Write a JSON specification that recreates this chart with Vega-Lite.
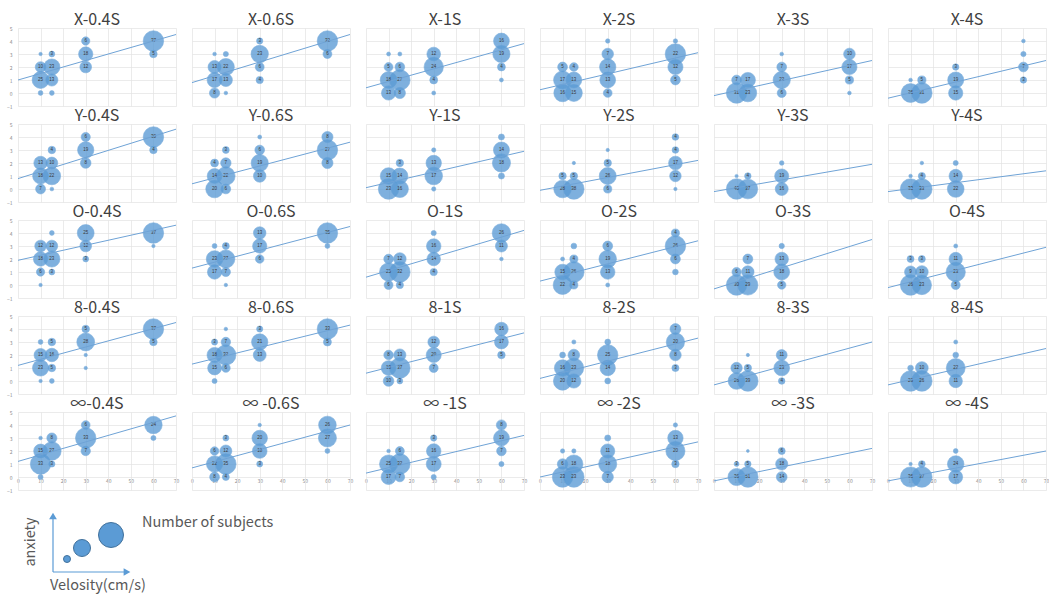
{
"$schema":"https://vega.github.io/schema/vega-lite/v6.json",
"padding":{"left":6,"top":12,"right":0,"bottom":0},
"config":{"view":{"stroke":null},"font":"Noto Sans CJK JP","concat":{"spacing":17}},
"vconcat":[
{
"data":{"values":[
{"p":"X-0.4S","k":"b","v":10,"a":3,"n":1},{"p":"X-0.4S","k":"b","v":10,"a":2,"n":10},{"p":"X-0.4S","k":"b","v":10,"a":1,"n":25},{"p":"X-0.4S","k":"b","v":10,"a":0,"n":2},{"p":"X-0.4S","k":"b","v":15,"a":3,"n":3},{"p":"X-0.4S","k":"b","v":15,"a":2,"n":23},{"p":"X-0.4S","k":"b","v":15,"a":1,"n":13},{"p":"X-0.4S","k":"b","v":15,"a":0,"n":2},{"p":"X-0.4S","k":"b","v":30,"a":4,"n":6},{"p":"X-0.4S","k":"b","v":30,"a":3,"n":18},{"p":"X-0.4S","k":"b","v":30,"a":2,"n":12},{"p":"X-0.4S","k":"b","v":60,"a":4,"n":37},{"p":"X-0.4S","k":"b","v":60,"a":3,"n":5},{"p":"X-0.4S","k":"t","v":0,"a":1.0},{"p":"X-0.4S","k":"t","v":70,"a":4.5},
{"p":"X-0.6S","k":"b","v":10,"a":3,"n":1},{"p":"X-0.6S","k":"b","v":10,"a":2,"n":13},{"p":"X-0.6S","k":"b","v":10,"a":1,"n":17},{"p":"X-0.6S","k":"b","v":10,"a":0,"n":8},{"p":"X-0.6S","k":"b","v":15,"a":3,"n":2},{"p":"X-0.6S","k":"b","v":15,"a":2,"n":22},{"p":"X-0.6S","k":"b","v":15,"a":1,"n":13},{"p":"X-0.6S","k":"b","v":15,"a":0,"n":1},{"p":"X-0.6S","k":"b","v":30,"a":4,"n":3},{"p":"X-0.6S","k":"b","v":30,"a":3,"n":23},{"p":"X-0.6S","k":"b","v":30,"a":2,"n":6},{"p":"X-0.6S","k":"b","v":30,"a":1,"n":4},{"p":"X-0.6S","k":"b","v":60,"a":4,"n":32},{"p":"X-0.6S","k":"b","v":60,"a":3,"n":6},{"p":"X-0.6S","k":"t","v":0,"a":0.8},{"p":"X-0.6S","k":"t","v":70,"a":4.5},
{"p":"X-1S","k":"b","v":10,"a":3,"n":1},{"p":"X-1S","k":"b","v":10,"a":2,"n":5},{"p":"X-1S","k":"b","v":10,"a":1,"n":18},{"p":"X-1S","k":"b","v":10,"a":0,"n":13},{"p":"X-1S","k":"b","v":15,"a":3,"n":1},{"p":"X-1S","k":"b","v":15,"a":2,"n":6},{"p":"X-1S","k":"b","v":15,"a":1,"n":27},{"p":"X-1S","k":"b","v":15,"a":0,"n":8},{"p":"X-1S","k":"b","v":30,"a":3,"n":12},{"p":"X-1S","k":"b","v":30,"a":2,"n":24},{"p":"X-1S","k":"b","v":30,"a":1,"n":4},{"p":"X-1S","k":"b","v":30,"a":0,"n":1},{"p":"X-1S","k":"b","v":60,"a":4,"n":16},{"p":"X-1S","k":"b","v":60,"a":3,"n":19},{"p":"X-1S","k":"b","v":60,"a":2,"n":4},{"p":"X-1S","k":"b","v":60,"a":1,"n":1},{"p":"X-1S","k":"t","v":0,"a":0.4},{"p":"X-1S","k":"t","v":70,"a":3.8},
{"p":"X-2S","k":"b","v":10,"a":2,"n":5},{"p":"X-2S","k":"b","v":10,"a":1,"n":17},{"p":"X-2S","k":"b","v":10,"a":0,"n":16},{"p":"X-2S","k":"b","v":15,"a":2,"n":4},{"p":"X-2S","k":"b","v":15,"a":1,"n":13},{"p":"X-2S","k":"b","v":15,"a":0,"n":15},{"p":"X-2S","k":"b","v":30,"a":4,"n":1},{"p":"X-2S","k":"b","v":30,"a":3,"n":7},{"p":"X-2S","k":"b","v":30,"a":2,"n":14},{"p":"X-2S","k":"b","v":30,"a":1,"n":13},{"p":"X-2S","k":"b","v":30,"a":0,"n":4},{"p":"X-2S","k":"b","v":60,"a":4,"n":1},{"p":"X-2S","k":"b","v":60,"a":3,"n":22},{"p":"X-2S","k":"b","v":60,"a":2,"n":12},{"p":"X-2S","k":"b","v":60,"a":1,"n":5},{"p":"X-2S","k":"t","v":0,"a":0.25},{"p":"X-2S","k":"t","v":70,"a":3.1},
{"p":"X-3S","k":"b","v":10,"a":1,"n":7},{"p":"X-3S","k":"b","v":10,"a":0,"n":31},{"p":"X-3S","k":"b","v":15,"a":1,"n":17},{"p":"X-3S","k":"b","v":15,"a":0,"n":23},{"p":"X-3S","k":"b","v":30,"a":3,"n":1},{"p":"X-3S","k":"b","v":30,"a":2,"n":7},{"p":"X-3S","k":"b","v":30,"a":1,"n":22},{"p":"X-3S","k":"b","v":30,"a":0,"n":6},{"p":"X-3S","k":"b","v":60,"a":3,"n":10},{"p":"X-3S","k":"b","v":60,"a":2,"n":17},{"p":"X-3S","k":"b","v":60,"a":1,"n":5},{"p":"X-3S","k":"b","v":60,"a":0,"n":1},{"p":"X-3S","k":"t","v":0,"a":-0.2},{"p":"X-3S","k":"t","v":70,"a":2.5},
{"p":"X-4S","k":"b","v":10,"a":1,"n":1},{"p":"X-4S","k":"b","v":10,"a":0,"n":26},{"p":"X-4S","k":"b","v":15,"a":1,"n":5},{"p":"X-4S","k":"b","v":15,"a":0,"n":31},{"p":"X-4S","k":"b","v":30,"a":2,"n":3},{"p":"X-4S","k":"b","v":30,"a":1,"n":19},{"p":"X-4S","k":"b","v":30,"a":0,"n":15},{"p":"X-4S","k":"b","v":60,"a":4,"n":1},{"p":"X-4S","k":"b","v":60,"a":3,"n":2},{"p":"X-4S","k":"b","v":60,"a":2,"n":7},{"p":"X-4S","k":"b","v":60,"a":1,"n":3},{"p":"X-4S","k":"t","v":0,"a":-0.4},{"p":"X-4S","k":"t","v":70,"a":2.5},
{"p":"Y-0.4S","k":"b","v":10,"a":2,"n":13},{"p":"Y-0.4S","k":"b","v":10,"a":1,"n":18},{"p":"Y-0.4S","k":"b","v":10,"a":0,"n":7},{"p":"Y-0.4S","k":"b","v":15,"a":3,"n":4},{"p":"Y-0.4S","k":"b","v":15,"a":2,"n":10},{"p":"Y-0.4S","k":"b","v":15,"a":1,"n":22},{"p":"Y-0.4S","k":"b","v":15,"a":0,"n":1},{"p":"Y-0.4S","k":"b","v":30,"a":4,"n":6},{"p":"Y-0.4S","k":"b","v":30,"a":3,"n":19},{"p":"Y-0.4S","k":"b","v":30,"a":2,"n":8},{"p":"Y-0.4S","k":"b","v":60,"a":4,"n":30},{"p":"Y-0.4S","k":"b","v":60,"a":3,"n":4},{"p":"Y-0.4S","k":"t","v":0,"a":0.8},{"p":"Y-0.4S","k":"t","v":70,"a":4.6},
{"p":"Y-0.6S","k":"b","v":10,"a":2,"n":4},{"p":"Y-0.6S","k":"b","v":10,"a":1,"n":14},{"p":"Y-0.6S","k":"b","v":10,"a":0,"n":20},{"p":"Y-0.6S","k":"b","v":15,"a":3,"n":3},{"p":"Y-0.6S","k":"b","v":15,"a":2,"n":7},{"p":"Y-0.6S","k":"b","v":15,"a":1,"n":22},{"p":"Y-0.6S","k":"b","v":15,"a":0,"n":6},{"p":"Y-0.6S","k":"b","v":30,"a":4,"n":1},{"p":"Y-0.6S","k":"b","v":30,"a":3,"n":6},{"p":"Y-0.6S","k":"b","v":30,"a":2,"n":19},{"p":"Y-0.6S","k":"b","v":30,"a":1,"n":10},{"p":"Y-0.6S","k":"b","v":60,"a":4,"n":8},{"p":"Y-0.6S","k":"b","v":60,"a":3,"n":27},{"p":"Y-0.6S","k":"b","v":60,"a":2,"n":8},{"p":"Y-0.6S","k":"t","v":0,"a":0.4},{"p":"Y-0.6S","k":"t","v":70,"a":3.6},
{"p":"Y-1S","k":"b","v":10,"a":1,"n":15},{"p":"Y-1S","k":"b","v":10,"a":0,"n":23},{"p":"Y-1S","k":"b","v":15,"a":2,"n":3},{"p":"Y-1S","k":"b","v":15,"a":1,"n":14},{"p":"Y-1S","k":"b","v":15,"a":0,"n":16},{"p":"Y-1S","k":"b","v":30,"a":3,"n":1},{"p":"Y-1S","k":"b","v":30,"a":2,"n":13},{"p":"Y-1S","k":"b","v":30,"a":1,"n":17},{"p":"Y-1S","k":"b","v":30,"a":0,"n":1},{"p":"Y-1S","k":"b","v":60,"a":4,"n":2},{"p":"Y-1S","k":"b","v":60,"a":3,"n":14},{"p":"Y-1S","k":"b","v":60,"a":2,"n":18},{"p":"Y-1S","k":"b","v":60,"a":1,"n":2},{"p":"Y-1S","k":"t","v":0,"a":0.1},{"p":"Y-1S","k":"t","v":70,"a":2.9},
{"p":"Y-2S","k":"b","v":10,"a":1,"n":5},{"p":"Y-2S","k":"b","v":10,"a":0,"n":28},{"p":"Y-2S","k":"b","v":15,"a":2,"n":1},{"p":"Y-2S","k":"b","v":15,"a":1,"n":5},{"p":"Y-2S","k":"b","v":15,"a":0,"n":38},{"p":"Y-2S","k":"b","v":30,"a":3,"n":1},{"p":"Y-2S","k":"b","v":30,"a":2,"n":5},{"p":"Y-2S","k":"b","v":30,"a":1,"n":26},{"p":"Y-2S","k":"b","v":30,"a":0,"n":6},{"p":"Y-2S","k":"b","v":60,"a":4,"n":4},{"p":"Y-2S","k":"b","v":60,"a":3,"n":4},{"p":"Y-2S","k":"b","v":60,"a":2,"n":17},{"p":"Y-2S","k":"b","v":60,"a":1,"n":12},{"p":"Y-2S","k":"b","v":60,"a":0,"n":1},{"p":"Y-2S","k":"t","v":0,"a":-0.1},{"p":"Y-2S","k":"t","v":70,"a":2.2},
{"p":"Y-3S","k":"b","v":10,"a":1,"n":1},{"p":"Y-3S","k":"b","v":10,"a":0,"n":40},{"p":"Y-3S","k":"b","v":15,"a":1,"n":4},{"p":"Y-3S","k":"b","v":15,"a":0,"n":37},{"p":"Y-3S","k":"b","v":30,"a":2,"n":2},{"p":"Y-3S","k":"b","v":30,"a":1,"n":19},{"p":"Y-3S","k":"b","v":30,"a":0,"n":16},{"p":"Y-3S","k":"t","v":0,"a":-0.2},{"p":"Y-3S","k":"t","v":70,"a":1.9},
{"p":"Y-4S","k":"b","v":10,"a":1,"n":1},{"p":"Y-4S","k":"b","v":10,"a":0,"n":33},{"p":"Y-4S","k":"b","v":15,"a":2,"n":1},{"p":"Y-4S","k":"b","v":15,"a":1,"n":4},{"p":"Y-4S","k":"b","v":15,"a":0,"n":33},{"p":"Y-4S","k":"b","v":30,"a":2,"n":2},{"p":"Y-4S","k":"b","v":30,"a":1,"n":14},{"p":"Y-4S","k":"b","v":30,"a":0,"n":22},{"p":"Y-4S","k":"t","v":0,"a":-0.2},{"p":"Y-4S","k":"t","v":70,"a":1.4},
{"p":"O-0.4S","k":"b","v":10,"a":3,"n":12},{"p":"O-0.4S","k":"b","v":10,"a":2,"n":18},{"p":"O-0.4S","k":"b","v":10,"a":1,"n":6},{"p":"O-0.4S","k":"b","v":10,"a":0,"n":1},{"p":"O-0.4S","k":"b","v":15,"a":4,"n":2},{"p":"O-0.4S","k":"b","v":15,"a":3,"n":12},{"p":"O-0.4S","k":"b","v":15,"a":2,"n":23},{"p":"O-0.4S","k":"b","v":15,"a":1,"n":3},{"p":"O-0.4S","k":"b","v":30,"a":4,"n":25},{"p":"O-0.4S","k":"b","v":30,"a":3,"n":12},{"p":"O-0.4S","k":"b","v":30,"a":2,"n":3},{"p":"O-0.4S","k":"b","v":60,"a":4,"n":37},{"p":"O-0.4S","k":"b","v":60,"a":3,"n":1},{"p":"O-0.4S","k":"t","v":0,"a":1.9},{"p":"O-0.4S","k":"t","v":70,"a":4.6},
{"p":"O-0.6S","k":"b","v":10,"a":3,"n":2},{"p":"O-0.6S","k":"b","v":10,"a":2,"n":23},{"p":"O-0.6S","k":"b","v":10,"a":1,"n":17},{"p":"O-0.6S","k":"b","v":15,"a":3,"n":4},{"p":"O-0.6S","k":"b","v":15,"a":2,"n":27},{"p":"O-0.6S","k":"b","v":15,"a":1,"n":7},{"p":"O-0.6S","k":"b","v":15,"a":0,"n":1},{"p":"O-0.6S","k":"b","v":30,"a":4,"n":13},{"p":"O-0.6S","k":"b","v":30,"a":3,"n":17},{"p":"O-0.6S","k":"b","v":30,"a":2,"n":6},{"p":"O-0.6S","k":"b","v":60,"a":4,"n":35},{"p":"O-0.6S","k":"b","v":60,"a":3,"n":2},{"p":"O-0.6S","k":"t","v":0,"a":1.3},{"p":"O-0.6S","k":"t","v":70,"a":4.5},
{"p":"O-1S","k":"b","v":10,"a":2,"n":7},{"p":"O-1S","k":"b","v":10,"a":1,"n":25},{"p":"O-1S","k":"b","v":10,"a":0,"n":6},{"p":"O-1S","k":"b","v":15,"a":2,"n":12},{"p":"O-1S","k":"b","v":15,"a":1,"n":32},{"p":"O-1S","k":"b","v":15,"a":0,"n":4},{"p":"O-1S","k":"b","v":30,"a":4,"n":2},{"p":"O-1S","k":"b","v":30,"a":3,"n":16},{"p":"O-1S","k":"b","v":30,"a":2,"n":14},{"p":"O-1S","k":"b","v":30,"a":1,"n":4},{"p":"O-1S","k":"b","v":60,"a":4,"n":26},{"p":"O-1S","k":"b","v":60,"a":3,"n":11},{"p":"O-1S","k":"b","v":60,"a":2,"n":1},{"p":"O-1S","k":"t","v":0,"a":0.6},{"p":"O-1S","k":"t","v":70,"a":4.2},
{"p":"O-2S","k":"b","v":10,"a":2,"n":1},{"p":"O-2S","k":"b","v":10,"a":1,"n":15},{"p":"O-2S","k":"b","v":10,"a":0,"n":22},{"p":"O-2S","k":"b","v":15,"a":3,"n":2},{"p":"O-2S","k":"b","v":15,"a":2,"n":4},{"p":"O-2S","k":"b","v":15,"a":1,"n":26},{"p":"O-2S","k":"b","v":15,"a":0,"n":4},{"p":"O-2S","k":"b","v":30,"a":3,"n":6},{"p":"O-2S","k":"b","v":30,"a":2,"n":19},{"p":"O-2S","k":"b","v":30,"a":1,"n":13},{"p":"O-2S","k":"b","v":30,"a":0,"n":1},{"p":"O-2S","k":"b","v":60,"a":4,"n":4},{"p":"O-2S","k":"b","v":60,"a":3,"n":26},{"p":"O-2S","k":"b","v":60,"a":2,"n":6},{"p":"O-2S","k":"b","v":60,"a":1,"n":2},{"p":"O-2S","k":"t","v":0,"a":0.3},{"p":"O-2S","k":"t","v":70,"a":3.4},
{"p":"O-3S","k":"b","v":10,"a":1,"n":6},{"p":"O-3S","k":"b","v":10,"a":0,"n":30},{"p":"O-3S","k":"b","v":15,"a":2,"n":7},{"p":"O-3S","k":"b","v":15,"a":1,"n":11},{"p":"O-3S","k":"b","v":15,"a":0,"n":29},{"p":"O-3S","k":"b","v":30,"a":3,"n":2},{"p":"O-3S","k":"b","v":30,"a":2,"n":13},{"p":"O-3S","k":"b","v":30,"a":1,"n":18},{"p":"O-3S","k":"b","v":30,"a":0,"n":5},{"p":"O-3S","k":"t","v":0,"a":-0.3},{"p":"O-3S","k":"t","v":70,"a":3.5},
{"p":"O-4S","k":"b","v":10,"a":2,"n":3},{"p":"O-4S","k":"b","v":10,"a":1,"n":9},{"p":"O-4S","k":"b","v":10,"a":0,"n":26},{"p":"O-4S","k":"b","v":15,"a":2,"n":3},{"p":"O-4S","k":"b","v":15,"a":1,"n":10},{"p":"O-4S","k":"b","v":15,"a":0,"n":23},{"p":"O-4S","k":"b","v":30,"a":3,"n":1},{"p":"O-4S","k":"b","v":30,"a":2,"n":11},{"p":"O-4S","k":"b","v":30,"a":1,"n":23},{"p":"O-4S","k":"b","v":30,"a":0,"n":5},{"p":"O-4S","k":"t","v":0,"a":-0.2},{"p":"O-4S","k":"t","v":70,"a":2.9},
{"p":"8-0.4S","k":"b","v":10,"a":3,"n":2},{"p":"8-0.4S","k":"b","v":10,"a":2,"n":15},{"p":"8-0.4S","k":"b","v":10,"a":1,"n":23},{"p":"8-0.4S","k":"b","v":10,"a":0,"n":1},{"p":"8-0.4S","k":"b","v":15,"a":3,"n":5},{"p":"8-0.4S","k":"b","v":15,"a":2,"n":16},{"p":"8-0.4S","k":"b","v":15,"a":1,"n":5},{"p":"8-0.4S","k":"b","v":15,"a":0,"n":2},{"p":"8-0.4S","k":"b","v":30,"a":4,"n":5},{"p":"8-0.4S","k":"b","v":30,"a":3,"n":28},{"p":"8-0.4S","k":"b","v":30,"a":2,"n":1},{"p":"8-0.4S","k":"b","v":30,"a":1,"n":1},{"p":"8-0.4S","k":"b","v":60,"a":4,"n":37},{"p":"8-0.4S","k":"b","v":60,"a":3,"n":5},{"p":"8-0.4S","k":"t","v":0,"a":1.2},{"p":"8-0.4S","k":"t","v":70,"a":4.5},
{"p":"8-0.6S","k":"b","v":10,"a":3,"n":3},{"p":"8-0.6S","k":"b","v":10,"a":2,"n":18},{"p":"8-0.6S","k":"b","v":10,"a":1,"n":15},{"p":"8-0.6S","k":"b","v":10,"a":0,"n":2},{"p":"8-0.6S","k":"b","v":15,"a":4,"n":1},{"p":"8-0.6S","k":"b","v":15,"a":3,"n":7},{"p":"8-0.6S","k":"b","v":15,"a":2,"n":32},{"p":"8-0.6S","k":"b","v":15,"a":1,"n":6},{"p":"8-0.6S","k":"b","v":30,"a":4,"n":3},{"p":"8-0.6S","k":"b","v":30,"a":3,"n":21},{"p":"8-0.6S","k":"b","v":30,"a":2,"n":13},{"p":"8-0.6S","k":"b","v":60,"a":4,"n":33},{"p":"8-0.6S","k":"b","v":60,"a":3,"n":5},{"p":"8-0.6S","k":"t","v":0,"a":1.3},{"p":"8-0.6S","k":"t","v":70,"a":4.3},
{"p":"8-1S","k":"b","v":10,"a":2,"n":8},{"p":"8-1S","k":"b","v":10,"a":1,"n":19},{"p":"8-1S","k":"b","v":10,"a":0,"n":10},{"p":"8-1S","k":"b","v":15,"a":2,"n":13},{"p":"8-1S","k":"b","v":15,"a":1,"n":37},{"p":"8-1S","k":"b","v":15,"a":0,"n":3},{"p":"8-1S","k":"b","v":30,"a":3,"n":12},{"p":"8-1S","k":"b","v":30,"a":2,"n":20},{"p":"8-1S","k":"b","v":30,"a":1,"n":7},{"p":"8-1S","k":"b","v":60,"a":4,"n":16},{"p":"8-1S","k":"b","v":60,"a":3,"n":17},{"p":"8-1S","k":"b","v":60,"a":2,"n":5},{"p":"8-1S","k":"t","v":0,"a":0.6},{"p":"8-1S","k":"t","v":70,"a":3.7},
{"p":"8-2S","k":"b","v":10,"a":2,"n":2},{"p":"8-2S","k":"b","v":10,"a":1,"n":16},{"p":"8-2S","k":"b","v":10,"a":0,"n":20},{"p":"8-2S","k":"b","v":15,"a":3,"n":1},{"p":"8-2S","k":"b","v":15,"a":2,"n":8},{"p":"8-2S","k":"b","v":15,"a":1,"n":23},{"p":"8-2S","k":"b","v":15,"a":0,"n":12},{"p":"8-2S","k":"b","v":30,"a":3,"n":2},{"p":"8-2S","k":"b","v":30,"a":2,"n":25},{"p":"8-2S","k":"b","v":30,"a":1,"n":14},{"p":"8-2S","k":"b","v":30,"a":0,"n":2},{"p":"8-2S","k":"b","v":60,"a":4,"n":7},{"p":"8-2S","k":"b","v":60,"a":3,"n":20},{"p":"8-2S","k":"b","v":60,"a":2,"n":8},{"p":"8-2S","k":"b","v":60,"a":1,"n":3},{"p":"8-2S","k":"t","v":0,"a":0.2},{"p":"8-2S","k":"t","v":70,"a":3.3},
{"p":"8-3S","k":"b","v":10,"a":1,"n":12},{"p":"8-3S","k":"b","v":10,"a":0,"n":26},{"p":"8-3S","k":"b","v":15,"a":2,"n":1},{"p":"8-3S","k":"b","v":15,"a":1,"n":5},{"p":"8-3S","k":"b","v":15,"a":0,"n":39},{"p":"8-3S","k":"b","v":30,"a":2,"n":11},{"p":"8-3S","k":"b","v":30,"a":1,"n":23},{"p":"8-3S","k":"b","v":30,"a":0,"n":4},{"p":"8-3S","k":"t","v":0,"a":-0.3},{"p":"8-3S","k":"t","v":70,"a":3.0},
{"p":"8-4S","k":"b","v":10,"a":1,"n":2},{"p":"8-4S","k":"b","v":10,"a":0,"n":26},{"p":"8-4S","k":"b","v":15,"a":1,"n":10},{"p":"8-4S","k":"b","v":15,"a":0,"n":26},{"p":"8-4S","k":"b","v":30,"a":3,"n":1},{"p":"8-4S","k":"b","v":30,"a":2,"n":2},{"p":"8-4S","k":"b","v":30,"a":1,"n":22},{"p":"8-4S","k":"b","v":30,"a":0,"n":11},{"p":"8-4S","k":"t","v":0,"a":-0.3},{"p":"8-4S","k":"t","v":70,"a":2.5},
{"p":"∞-0.4S","k":"b","v":10,"a":3,"n":1},{"p":"∞-0.4S","k":"b","v":10,"a":2,"n":15},{"p":"∞-0.4S","k":"b","v":10,"a":1,"n":33},{"p":"∞-0.4S","k":"b","v":10,"a":0,"n":2},{"p":"∞-0.4S","k":"b","v":15,"a":3,"n":8},{"p":"∞-0.4S","k":"b","v":15,"a":2,"n":27},{"p":"∞-0.4S","k":"b","v":15,"a":1,"n":3},{"p":"∞-0.4S","k":"b","v":30,"a":4,"n":6},{"p":"∞-0.4S","k":"b","v":30,"a":3,"n":33},{"p":"∞-0.4S","k":"b","v":30,"a":2,"n":7},{"p":"∞-0.4S","k":"b","v":60,"a":4,"n":24},{"p":"∞-0.4S","k":"b","v":60,"a":3,"n":2},{"p":"∞-0.4S","k":"t","v":0,"a":1.2},{"p":"∞-0.4S","k":"t","v":70,"a":4.7},
{"p":"∞ -0.6S","k":"b","v":10,"a":2,"n":6},{"p":"∞ -0.6S","k":"b","v":10,"a":1,"n":22},{"p":"∞ -0.6S","k":"b","v":10,"a":0,"n":8},{"p":"∞ -0.6S","k":"b","v":15,"a":3,"n":3},{"p":"∞ -0.6S","k":"b","v":15,"a":2,"n":12},{"p":"∞ -0.6S","k":"b","v":15,"a":1,"n":35},{"p":"∞ -0.6S","k":"b","v":15,"a":0,"n":4},{"p":"∞ -0.6S","k":"b","v":30,"a":4,"n":1},{"p":"∞ -0.6S","k":"b","v":30,"a":3,"n":20},{"p":"∞ -0.6S","k":"b","v":30,"a":2,"n":18},{"p":"∞ -0.6S","k":"b","v":30,"a":1,"n":3},{"p":"∞ -0.6S","k":"b","v":60,"a":4,"n":26},{"p":"∞ -0.6S","k":"b","v":60,"a":3,"n":27},{"p":"∞ -0.6S","k":"b","v":60,"a":2,"n":2},{"p":"∞ -0.6S","k":"t","v":0,"a":0.7},{"p":"∞ -0.6S","k":"t","v":70,"a":4.0},
{"p":"∞ -1S","k":"b","v":10,"a":2,"n":1},{"p":"∞ -1S","k":"b","v":10,"a":1,"n":25},{"p":"∞ -1S","k":"b","v":10,"a":0,"n":17},{"p":"∞ -1S","k":"b","v":15,"a":2,"n":6},{"p":"∞ -1S","k":"b","v":15,"a":1,"n":32},{"p":"∞ -1S","k":"b","v":15,"a":0,"n":7},{"p":"∞ -1S","k":"b","v":30,"a":3,"n":3},{"p":"∞ -1S","k":"b","v":30,"a":2,"n":16},{"p":"∞ -1S","k":"b","v":30,"a":1,"n":17},{"p":"∞ -1S","k":"b","v":30,"a":0,"n":2},{"p":"∞ -1S","k":"b","v":60,"a":4,"n":8},{"p":"∞ -1S","k":"b","v":60,"a":3,"n":19},{"p":"∞ -1S","k":"b","v":60,"a":2,"n":7},{"p":"∞ -1S","k":"b","v":60,"a":1,"n":2},{"p":"∞ -1S","k":"t","v":0,"a":0.3},{"p":"∞ -1S","k":"t","v":70,"a":3.2},
{"p":"∞ -2S","k":"b","v":10,"a":2,"n":1},{"p":"∞ -2S","k":"b","v":10,"a":1,"n":6},{"p":"∞ -2S","k":"b","v":10,"a":0,"n":23},{"p":"∞ -2S","k":"b","v":15,"a":2,"n":1},{"p":"∞ -2S","k":"b","v":15,"a":1,"n":18},{"p":"∞ -2S","k":"b","v":15,"a":0,"n":23},{"p":"∞ -2S","k":"b","v":30,"a":3,"n":2},{"p":"∞ -2S","k":"b","v":30,"a":2,"n":11},{"p":"∞ -2S","k":"b","v":30,"a":1,"n":18},{"p":"∞ -2S","k":"b","v":30,"a":0,"n":7},{"p":"∞ -2S","k":"b","v":60,"a":4,"n":1},{"p":"∞ -2S","k":"b","v":60,"a":3,"n":13},{"p":"∞ -2S","k":"b","v":60,"a":2,"n":20},{"p":"∞ -2S","k":"b","v":60,"a":1,"n":3},{"p":"∞ -2S","k":"t","v":0,"a":0.0},{"p":"∞ -2S","k":"t","v":70,"a":2.7},
{"p":"∞ -3S","k":"b","v":10,"a":1,"n":3},{"p":"∞ -3S","k":"b","v":10,"a":0,"n":36},{"p":"∞ -3S","k":"b","v":15,"a":2,"n":1},{"p":"∞ -3S","k":"b","v":15,"a":1,"n":5},{"p":"∞ -3S","k":"b","v":15,"a":0,"n":51},{"p":"∞ -3S","k":"b","v":30,"a":2,"n":6},{"p":"∞ -3S","k":"b","v":30,"a":1,"n":18},{"p":"∞ -3S","k":"b","v":30,"a":0,"n":14},{"p":"∞ -3S","k":"t","v":0,"a":-0.3},{"p":"∞ -3S","k":"t","v":70,"a":2.2},
{"p":"∞ -4S","k":"b","v":10,"a":1,"n":1},{"p":"∞ -4S","k":"b","v":10,"a":0,"n":36},{"p":"∞ -4S","k":"b","v":15,"a":1,"n":4},{"p":"∞ -4S","k":"b","v":15,"a":0,"n":37},{"p":"∞ -4S","k":"b","v":30,"a":2,"n":2},{"p":"∞ -4S","k":"b","v":30,"a":1,"n":24},{"p":"∞ -4S","k":"b","v":30,"a":0,"n":17},{"p":"∞ -4S","k":"t","v":0,"a":-0.3},{"p":"∞ -4S","k":"t","v":70,"a":2.0}
]},
"facet":{"field":"p","type":"nominal","title":null,
"sort":["X-0.4S","X-0.6S","X-1S","X-2S","X-3S","X-4S","Y-0.4S","Y-0.6S","Y-1S","Y-2S","Y-3S","Y-4S","O-0.4S","O-0.6S","O-1S","O-2S","O-3S","O-4S","8-0.4S","8-0.6S","8-1S","8-2S","8-3S","8-4S","∞-0.4S","∞ -0.6S","∞ -1S","∞ -2S","∞ -3S","∞ -4S"],
"header":{"labelFontSize":16,"labelColor":"#404040","labelPadding":0,"labelFont":"Noto Sans CJK JP"}},
"columns":6,
"spacing":{"row":2,"column":12},
"resolve":{"scale":{"size":"independent"}},
"spec":{
"width":158,"height":78,
"encoding":{
"x":{"field":"v","type":"quantitative","scale":{"domain":[0,70],"nice":false,"zero":false},"axis":{"title":null,"values":[0,10,20,30,40,50,60,70],"labelFontSize":5,"labelColor":"#8c8c8c","labelOverlap":false,"labelFlush":false,"labelBound":false,"grid":true,"gridColor":"#e2e2e2","gridWidth":0.7,"domain":false,"ticks":false,"labelPadding":1,"offset":-13}},
"y":{"field":"a","type":"quantitative","scale":{"domain":[-1,5],"nice":false,"zero":false},"axis":{"title":null,"values":[-1,0,1,2,3,4,5],"labelFontSize":5,"labelColor":"#8c8c8c","labelOverlap":false,"labelFlush":false,"labelBound":false,"grid":true,"gridColor":"#e2e2e2","gridWidth":0.7,"domain":false,"ticks":false,"labelPadding":4}}
},
"layer":[
{"transform":[{"filter":"datum.k==='b'"}],
"mark":{"type":"circle","color":"#5B9BD5","opacity":0.78,"stroke":"#5B9BD5","strokeWidth":0.6},
"encoding":{"size":{"field":"n","type":"quantitative","scale":{"range":[0,420],"zero":true},"legend":null}}},
{"transform":[{"filter":"datum.k==='b' && datum.n>=3"}],
"mark":{"type":"text","fontSize":4.5,"color":"#3a3a3a","font":"Liberation Sans"},
"encoding":{"text":{"field":"n","type":"quantitative"}}},
{"transform":[{"filter":"datum.k==='t'"}],
"mark":{"type":"line","color":"#6FA3D6","strokeWidth":1},
"encoding":{}}
]}
},
{
"width":280,"height":88,
"data":{"values":[
{"g":"ax","x":35,"y":26,"x2":35,"y2":80},
{"g":"ax","x":35,"y":26,"x2":107,"y2":26},
{"g":"up","x":35,"y":82},
{"g":"right","x":109,"y":26},
{"g":"b","x":49,"y":39,"s":49},
{"g":"b","x":64,"y":50,"s":289},
{"g":"b","x":93,"y":63,"s":625},
{"g":"t","x":124,"y":75,"label":"Number of subjects"},
{"g":"t","x":32,"y":12,"label":"Velosity(cm/s)"},
{"g":"r","x":13,"y":56,"label":"anxiety"}
]},
"layer":[
{"transform":[{"filter":"datum.g==='ax'"}],"mark":{"type":"rule","color":"#5B9BD5","strokeWidth":1.2},
"encoding":{"x":{"field":"x","type":"quantitative","scale":{"domain":[0,280],"nice":false,"zero":true},"axis":null},"y":{"field":"y","type":"quantitative","scale":{"domain":[0,88],"nice":false,"zero":true},"axis":null},"x2":{"field":"x2"},"y2":{"field":"y2"}}},
{"transform":[{"filter":"datum.g==='up' || datum.g==='right'"}],"mark":{"type":"point","filled":true,"color":"#5B9BD5","opacity":1,"size":60},
"encoding":{"x":{"field":"x","type":"quantitative"},"y":{"field":"y","type":"quantitative"},"shape":{"field":"g","type":"nominal","scale":{"domain":["up","right"],"range":["triangle-up","triangle-right"]},"legend":null}}},
{"transform":[{"filter":"datum.g==='b'"}],"mark":{"type":"circle","color":"#5B9BD5","opacity":1,"stroke":"#41719C","strokeWidth":1},
"encoding":{"x":{"field":"x","type":"quantitative"},"y":{"field":"y","type":"quantitative"},"size":{"field":"s","type":"quantitative","scale":null}}},
{"transform":[{"filter":"datum.g==='t'"}],"mark":{"type":"text","align":"left","baseline":"middle","fontSize":14.5,"color":"#595959","font":"Noto Sans CJK JP"},
"encoding":{"x":{"field":"x","type":"quantitative"},"y":{"field":"y","type":"quantitative"},"text":{"field":"label"}}},
{"transform":[{"filter":"datum.g==='r'"}],"mark":{"type":"text","align":"center","baseline":"middle","angle":270,"fontSize":14.5,"color":"#595959","font":"Noto Sans CJK JP"},
"encoding":{"x":{"field":"x","type":"quantitative"},"y":{"field":"y","type":"quantitative"},"text":{"field":"label"}}}
]
}
]
}
